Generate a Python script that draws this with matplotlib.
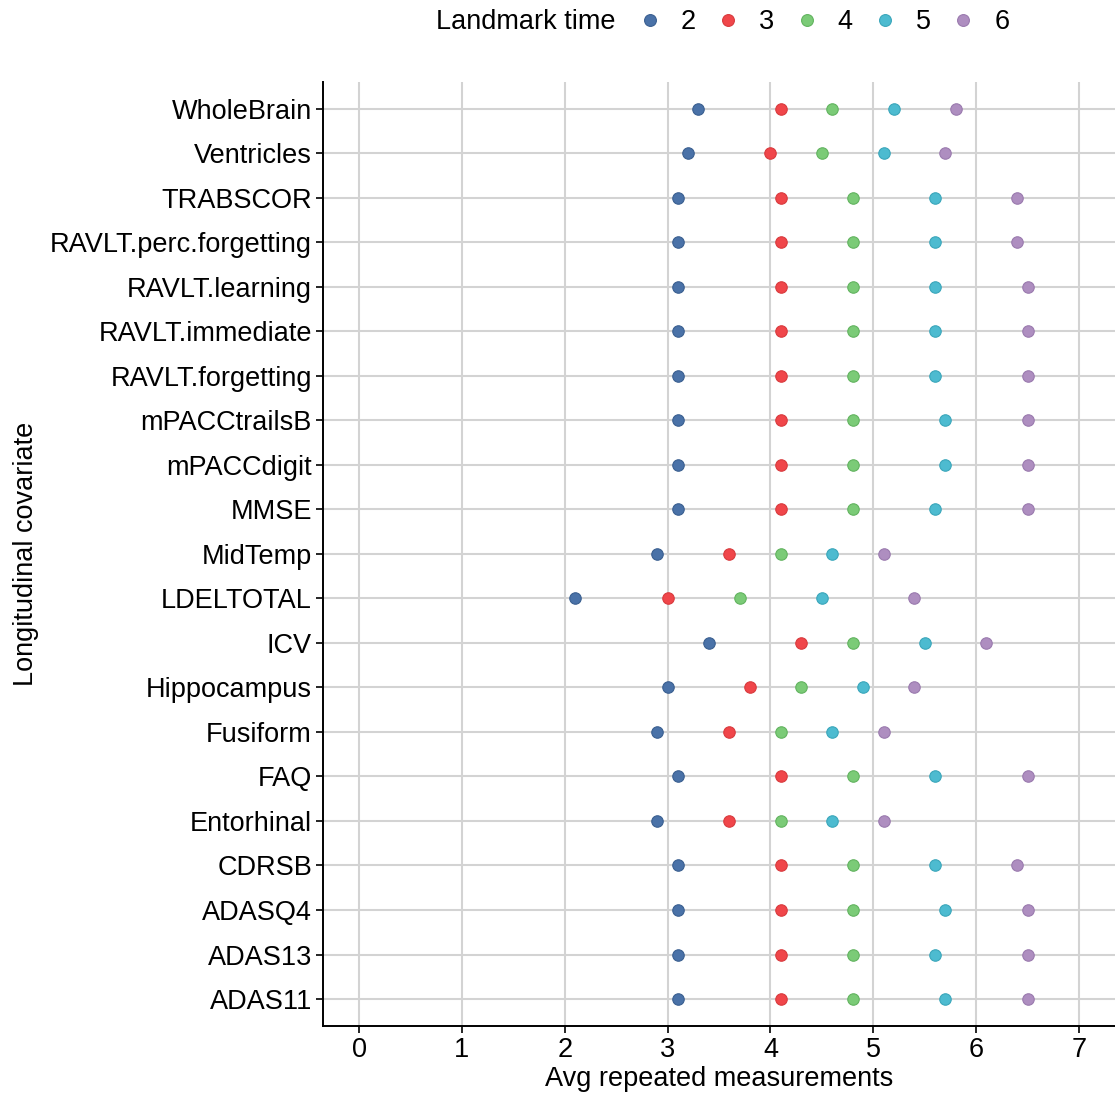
import matplotlib
matplotlib.use("Agg")
import matplotlib.pyplot as plt
from matplotlib.lines import Line2D

plt.rcParams['font.family'] = ['Liberation Sans', 'DejaVu Sans']

covariates = ["ADAS11", "ADAS13", "ADASQ4", "CDRSB", "Entorhinal", "FAQ", "Fusiform",
              "Hippocampus", "ICV", "LDELTOTAL", "MidTemp", "MMSE", "mPACCdigit",
              "mPACCtrailsB", "RAVLT.forgetting", "RAVLT.immediate", "RAVLT.learning",
              "RAVLT.perc.forgetting", "TRABSCOR", "Ventricles", "WholeBrain"]

landmarks = ["2", "3", "4", "5", "6"]

lm2 = [3.1, 3.1, 3.1, 3.1, 2.9, 3.1, 2.9, 3.0, 3.4, 2.1, 2.9, 3.1, 3.1, 3.1, 3.1, 3.1, 3.1, 3.1, 3.1, 3.2, 3.3]
lm3 = [4.1, 4.1, 4.1, 4.1, 3.6, 4.1, 3.6, 3.8, 4.3, 3.0, 3.6, 4.1, 4.1, 4.1, 4.1, 4.1, 4.1, 4.1, 4.1, 4.0, 4.1]
lm4 = [4.8, 4.8, 4.8, 4.8, 4.1, 4.8, 4.1, 4.3, 4.8, 3.7, 4.1, 4.8, 4.8, 4.8, 4.8, 4.8, 4.8, 4.8, 4.8, 4.5, 4.6]
lm5 = [5.7, 5.6, 5.7, 5.6, 4.6, 5.6, 4.6, 4.9, 5.5, 4.5, 4.6, 5.6, 5.7, 5.7, 5.6, 5.6, 5.6, 5.6, 5.6, 5.1, 5.2]
lm6 = [6.5, 6.5, 6.5, 6.4, 5.1, 6.5, 5.1, 5.4, 6.1, 5.4, 5.1, 6.5, 6.5, 6.5, 6.5, 6.5, 6.5, 6.4, 6.4, 5.7, 5.8]

series = [lm2, lm3, lm4, lm5, lm6]
colors = ["#4A72A8", "#F0464A", "#7BCB77", "#4DBBD0", "#AE8EC0"]
edges = ["#3A5F90", "#D83A3D", "#62B35F", "#3AA6BA", "#9A7AAE"]

FS = 19.5

fig = plt.figure(figsize=(11.15, 11.0), dpi=100)
ax = fig.add_axes([0.2897, 0.0675, 0.7103, 0.858])

ypos = list(range(1, len(covariates) + 1))
for vals, c, e in zip(series, colors, edges):
    ax.scatter(vals, ypos, s=68, color=c, edgecolors=e, linewidths=0.8, zorder=3)

ax.set_xlim(-0.35, 7.35)
ax.set_ylim(0.4, len(covariates) + 0.6)
ax.set_xticks(range(0, 8))
ax.set_yticks(ypos)
ax.set_yticklabels(covariates)
ax.grid(True, color="#D3D3D3", linewidth=1.5, zorder=0)
ax.set_axisbelow(True)
for s in ["top", "right"]:
    ax.spines[s].set_visible(False)
for s in ["left", "bottom"]:
    ax.spines[s].set_linewidth(1.4)
    ax.spines[s].set_color("black")
ax.tick_params(axis="both", labelsize=FS, length=5, width=1.2, color="black",
               labelcolor="black", pad=3)
ax.set_xlabel("Avg repeated measurements", fontsize=FS, labelpad=2)
ax.set_ylabel("Longitudinal covariate", fontsize=FS, labelpad=8)

handles = [Line2D([], [], marker="o", linestyle="", markersize=8.5, markerfacecolor=c,
                  markeredgecolor=e, markeredgewidth=0.8) for c, e in zip(colors, edges)]
fig.text(615 / 1115, 1 - 22 / 1100, "Landmark time", fontsize=FS, ha="right", va="center")
leg = fig.legend(handles, landmarks, ncol=5, loc="center left",
                 bbox_to_anchor=(636 / 1115, 1 - 22 / 1100), frameon=False,
                 fontsize=FS, handletextpad=0.65, columnspacing=0.69, handlelength=1.0,
                 borderaxespad=0, borderpad=0)

fig.savefig("out.png", dpi=100)
